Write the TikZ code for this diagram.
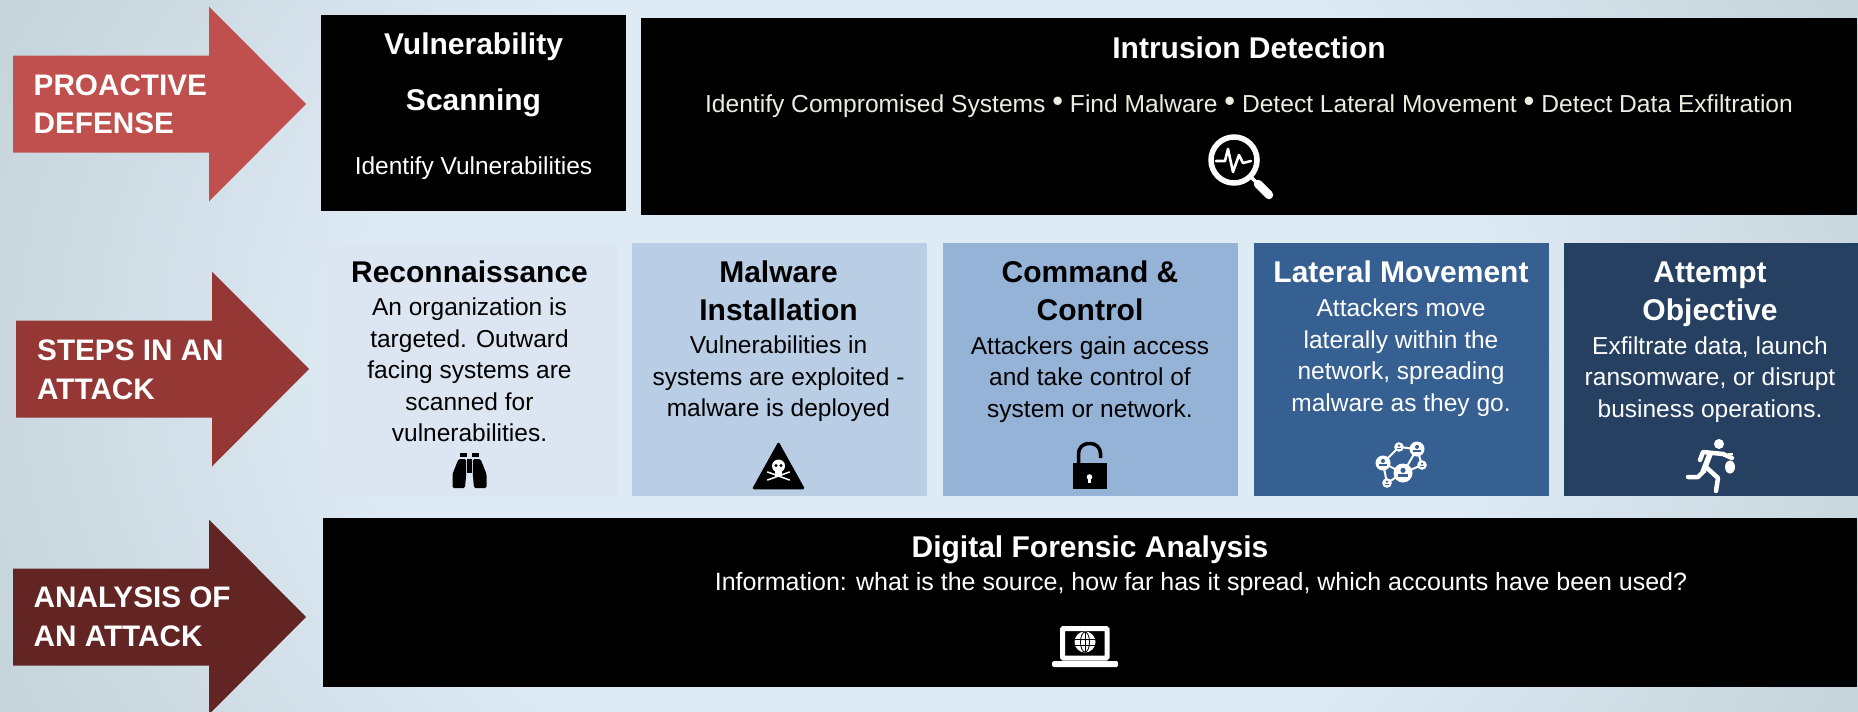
\documentclass[tikz,border=0pt]{standalone}
\usepackage{fontspec}
\setmainfont{Liberation Sans}
\usetikzlibrary{calc}

\definecolor{bgmid}{HTML}{DEEAF4}
\definecolor{bgedge}{HTML}{C4D2D9}
\definecolor{arrowA}{HTML}{C0504D}
\definecolor{arrowB}{HTML}{953735}
\definecolor{arrowC}{HTML}{632523}
\definecolor{stepA}{HTML}{DCE6F2}
\definecolor{stepB}{HTML}{B9CDE5}
\definecolor{stepC}{HTML}{95B3D7}
\definecolor{stepD}{HTML}{376092}
\definecolor{stepE}{HTML}{254061}
\definecolor{cream}{HTML}{EEECE1}

\pgfdeclareradialshading{bgshade}{\pgfpoint{0bp}{0bp}}{color(0bp)=(bgmid); color(15bp)=(bgmid); color(28bp)=(bgedge); color(50bp)=(bgedge)}

\newcommand{\dotsep}{\raisebox{1.2pt}{\scalebox{1.25}{•}}}

\tikzset{
	sidelabel/.style={anchor=west, align=left, inner sep=0pt, text=white, font=\fontsize{29.7}{38.5}\selectfont\bfseries},
	panel/.style={anchor=north west, inner sep=0pt, fill=black},
	stepbox/.style={anchor=north west, inner sep=0pt, minimum width=294.5pt, minimum height=253pt},
	heading/.style={align=center, inner sep=0pt, font=\fontsize{30}{38}\selectfont\bfseries},
	bodytext/.style={align=center, inner sep=0pt, font=\fontsize{24.5}{31.6}\selectfont},
	pics/sidearrow/.style={code={
		\fill[#1] (0,-48.5) -- (196,-48.5) -- (196,-97.5) -- (293,0) -- (196,97.5) -- (196,48.5) -- (0,48.5) -- cycle;
	}},
	pics/magnifier/.style={code={
		\draw[white, line width=5.5pt] (0,0) circle (23);
		\draw[white, line width=2.6pt, line join=round, line cap=round] (-18,1) -- (-9,1) -- (-6,-11) -- (-1,12) -- (5,-5) -- (9,3) -- (17,1);
		\draw[white, line width=3.5pt] (16,16) -- (24,24);
		\draw[white, line width=8.5pt, line cap=round] (24,24) -- (35,35);
	}},
	pics/binoculars/.style={code={
		\fill[black] (-10,-18) rectangle (-3,-14);
		\fill[black] (2,-18) rectangle (9,-14);
		\fill[black] (-2.5,-12) rectangle (2.5,1.5);
		\fill[black, rounded corners=1.5pt] (-11,-12) -- (-3.3,-12) -- (-3.3,3) -- (-4.5,17) -- (-17,17) -- (-17,3) -- cycle;
		\fill[black, rounded corners=1.5pt] (11,-12) -- (3.3,-12) -- (3.3,3) -- (4.5,17) -- (17,17) -- (17,3) -- cycle;
	}},
	pics/skullsign/.style={code={
		\draw[black, fill=black, line width=2.5pt, line join=round] (0,-26) -- (24.5,18) -- (-24.5,18) -- cycle;
		\draw[white, line width=1.5pt, line cap=round] (-11,2) -- (11,10);
		\draw[white, line width=1.5pt, line cap=round] (-11,10) -- (11,2);
		\fill[white] (0,-4) circle (6.5);
		\fill[white] (-3.5,0) rectangle (3.5,6);
		\fill[black] (-2.5,-4.5) circle (1.6);
		\fill[black] (2.5,-4.5) circle (1.6);
	}},
	pics/openlock/.style={code={
		\fill[black] (-17,-13) rectangle (17,13);
		\draw[black, line width=3.5pt, rounded corners=10pt] (-11,-13) -- (-11,-32.5) -- (11,-32.5) -- (11,-18);
		\fill[white] (0,1) circle (2.8);
		\fill[white] (-1.2,1) -- (1.2,1) -- (1.2,7) -- (-1.2,7) -- cycle;
	}},
	pics/peoplenet/.style={code={
		\coordinate (netA) at (0,0);
		\coordinate (netB) at (-20,-10);
		\coordinate (netC) at (-4,-26);
		\coordinate (netD) at (14,-24);
		\coordinate (netE) at (19,-8);
		\coordinate (netF) at (-16,10);
		\foreach \from/\to in {netA/netB, netA/netF, netB/netC, netC/netD, netD/netA, netD/netE, netE/netA, netB/netF}
			\draw[white, line width=2pt] (\from) -- (\to);
		\foreach \at/\rad in {netA/9.5, netB/7.5, netC/4.8, netD/7.5, netE/4.8, netF/4.8} {
			\fill[white] (\at) circle (\rad);
			\fill[stepD] ($(\at)+(0,-0.28*\rad)$) circle (0.27*\rad);
			\fill[stepD] ($(\at)+(-0.5*\rad,0.15*\rad)$) rectangle ($(\at)+(0.5*\rad,0.42*\rad)$);
		}
	}},
	pics/runner/.style={code={
		\fill[white] (9,-26) circle (5);
		\draw[white, line width=4.5pt, line cap=round, line join=round] (-10,-10) -- (-7,-18) -- (13,-16) -- (22,-12);
		\draw[white, line width=5.5pt, line join=round] (0,-16) -- (-7,2);
		\draw[white, line width=4.5pt, line cap=round, line join=round] (-7,2) -- (-12,7) -- (-22,7);
		\draw[white, line width=4.5pt, line cap=round, line join=round] (-3,-2) -- (8,8) -- (6,21);
		\fill[white] (20,-3) ellipse (5 and 6.5);
		\fill[white] (18,-17) rectangle (23,-15);
	}},
	pics/laptop/.style={code={
		\draw[white, line width=5pt, rounded corners=1pt] (-22.5,13) -- (-22.5,-16.5) -- (22,-16.5) -- (22,13) -- cycle;
		\fill[white, rounded corners=1.5pt] (-33,16) rectangle (33,22);
		\fill[white] (0,-3) circle (10.5);
		\draw[black, line width=0.8pt] (0,-3) ellipse (4.5 and 10);
		\draw[black, line width=0.8pt] (-10,-6) -- (10,-6);
		\draw[black, line width=0.8pt] (-10,0) -- (10,0);
		\draw[black, line width=0.8pt] (0,-13) -- (0,7);
	}}
}

\begin{document}
\begin{tikzpicture}[x=1pt, y=-1pt]

	\useasboundingbox (0,0) rectangle (1858,712);
	\clip (0,0) rectangle (1858,712);
	\shade[shading=bgshade] (0,-400) rectangle (1858,1112);

	% arrows on the left
	\pic at (13,104) {sidearrow=arrowA};
	\pic at (16,369) {sidearrow=arrowB};
	\pic at (13,617) {sidearrow=arrowC};

	\node[sidelabel] (proactive) at (33.5,104.5) {PROACTIVE\\DEFENSE};
	\node[sidelabel] (attacksteps) at (37,370) {STEPS IN AN\\ATTACK};
	\node[sidelabel] (analysis) at (33.5,617) {ANALYSIS OF\\AN ATTACK};

	% top row
	\node[panel, minimum width=305pt, minimum height=196pt] (scanbox) at (321,15) {};
	\node[heading, text=white] (scantitle) at (473.5,75) {Vulnerability\\[17.5pt]Scanning};
	\node[bodytext, text=white] (scantext) at (473.5,168) {Identify Vulnerabilities};

	\node[panel, minimum width=1216pt, minimum height=197pt] (detectbox) at (641,18) {};
	\node[heading, text=white] (detecttitle) at (1249,48) {Intrusion Detection};
	\node[bodytext, text=cream, font=\fontsize{24.6}{31.6}\selectfont] (detecttext) at (1249,106) {Identify Compromised Systems \dotsep{} Find Malware \dotsep{} Detect Lateral Movement \dotsep{} Detect Data Exfiltration};
	\pic at (1234,160) {magnifier};

	% steps
	\node[stepbox, fill=stepA] (reconbox) at (322,243) {};
	\node[stepbox, fill=stepB] (malwarebox) at (632,243) {};
	\node[stepbox, fill=stepC] (commandbox) at (943,243) {};
	\node[stepbox, fill=stepD] (lateralbox) at (1254,243) {};
	\node[stepbox, fill=stepE] (attemptbox) at (1564,243) {};

	\node[heading] (recontitle) at (469.5,272) {Reconnaissance};
	\node[bodytext] (recontext) at (469.5,370) {An organization is\\targeted. Outward\\facing systems are\\scanned for\\vulnerabilities.};
	\pic at (469.5,471) {binoculars};

	\node[heading] (malwaretitle) at (778.5,291) {Malware\\Installation};
	\node[bodytext] (malwaretext) at (778.5,379) {Vulnerabilities in\\systems are exploited -\\malware is deployed};
	\pic at (778.5,470) {skullsign};

	\node[heading] (commandtitle) at (1090,291) {Command \&\\Control};
	\node[bodytext] (commandtext) at (1090,379.5) {Attackers gain access\\and take control of\\system or network.};
	\pic at (1089.5,476) {openlock};

	\node[heading, text=white] (lateraltitle) at (1401,272) {Lateral Movement};
	\node[bodytext, text=white] (lateraltext) at (1401,357.5) {Attackers move\\laterally within the\\network, spreading\\malware as they go.};
	\pic at (1403,473) {peoplenet};

	\node[heading, text=white] (attempttitle) at (1710,294) {Attempt\\Objective};
	\node[bodytext, text=white] (attempttext) at (1710,379.5) {Exfiltrate data, launch\\ransomware, or disrupt\\business operations.};
	\pic at (1710,470) {runner};

	% bottom row
	\node[panel, minimum width=1534pt, minimum height=169pt] (forensicbox) at (323,518) {};
	\node[heading, text=white] (forensictitle) at (1090,549.5) {Digital Forensic Analysis};
	\node[bodytext, text=white, font=\fontsize{25}{30}\selectfont] (forensictext) at (1201,584) {Information: what is the source, how far has it spread, which accounts have been used?};
	\pic at (1085,645) {laptop};

\end{tikzpicture}
\end{document}
